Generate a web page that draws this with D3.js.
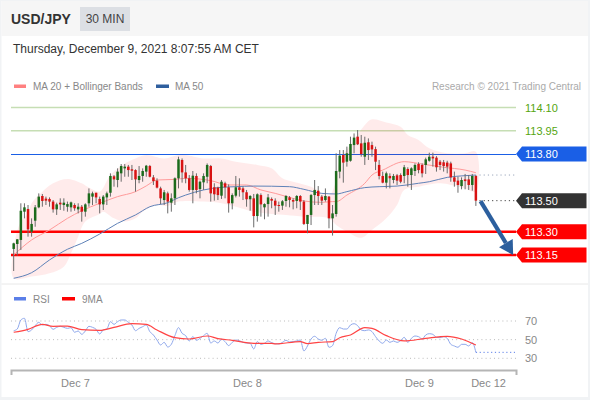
<!DOCTYPE html>
<html>
<head>
<meta charset="utf-8">
<script src="https://cdn.jsdelivr.net/npm/d3@7"></script>
<style>
  html, body { margin: 0; padding: 0; background: #fff; }
  svg { display: block; font-family: "Liberation Sans", Arial, sans-serif; }
</style>
</head>
<body>
<div id="chart"></div>
<script>
// Candles, one per 30 minutes
const opens = [113.189,113.221,113.247,113.429,113.446,113.300,113.371,113.457,113.530,113.513,
  113.511,113.494,113.444,113.487,113.472,113.461,113.457,113.472,113.444,113.461,
  113.429,113.483,113.526,113.551,113.511,113.476,113.521,113.551,113.657,113.633,
  113.676,113.708,113.719,113.702,113.697,113.633,113.659,113.687,113.723,113.650,
  113.629,113.579,113.504,113.547,113.487,113.515,113.644,113.762,113.682,113.644,
  113.569,113.659,113.575,113.618,113.654,113.723,113.586,113.584,113.532,113.612,
  113.586,113.483,113.532,113.586,113.579,113.554,113.509,113.515,113.401,113.536,
  113.457,113.478,113.511,113.500,113.472,113.468,113.498,113.521,113.504,113.498,
  113.530,113.494,113.350,113.408,113.536,113.564,113.526,113.504,113.526,113.386,
  113.414,113.687,113.794,113.751,113.757,113.858,113.912,113.869,113.783,113.876,
  113.858,113.832,113.730,113.659,113.616,113.659,113.633,113.663,113.665,113.659,
  113.704,113.665,113.691,113.736,113.730,113.730,113.757,113.783,113.777,113.751,
  113.747,113.745,113.740,113.650,113.629,113.594,113.637,113.637,113.601,113.659];
const highs = [113.229,113.253,113.483,113.483,113.472,113.386,113.472,113.547,113.543,113.526,
  113.521,113.504,113.487,113.515,113.515,113.494,113.494,113.483,113.483,113.472,
  113.483,113.579,113.558,113.551,113.526,113.536,113.558,113.676,113.665,113.708,
  113.736,113.736,113.730,113.730,113.702,113.723,113.708,113.730,113.730,113.665,
  113.644,113.590,113.569,113.558,113.547,113.650,113.783,113.772,113.730,113.665,
  113.691,113.676,113.629,113.676,113.740,113.730,113.612,113.590,113.633,113.622,
  113.605,113.547,113.659,113.644,113.590,113.569,113.536,113.543,113.547,113.547,
  113.483,113.543,113.521,113.515,113.494,113.504,113.536,113.530,113.515,113.536,
  113.536,113.504,113.408,113.543,113.633,113.594,113.536,113.579,113.530,113.472,
  113.805,113.826,113.826,113.848,113.912,113.933,113.955,113.923,113.912,113.901,
  113.880,113.848,113.762,113.687,113.687,113.676,113.672,113.672,113.676,113.730,
  113.715,113.715,113.740,113.747,113.740,113.777,113.809,113.809,113.787,113.762,
  113.762,113.757,113.751,113.687,113.654,113.650,113.672,113.665,113.672,113.665];
const lows = [113.047,113.146,113.182,113.386,113.268,113.268,113.332,113.451,113.461,113.472,
  113.461,113.423,113.408,113.440,113.435,113.429,113.429,113.435,113.418,113.365,
  113.397,113.461,113.472,113.483,113.418,113.440,113.472,113.526,113.590,113.586,
  113.622,113.654,113.654,113.633,113.558,113.612,113.622,113.654,113.650,113.601,
  113.579,113.478,113.472,113.418,113.429,113.472,113.579,113.616,113.612,113.558,
  113.483,113.547,113.515,113.569,113.612,113.494,113.500,113.504,113.511,113.515,
  113.423,113.444,113.521,113.526,113.504,113.461,113.435,113.328,113.365,113.397,
  113.380,113.397,113.451,113.408,113.429,113.440,113.461,113.457,113.444,113.451,
  113.440,113.343,113.290,113.343,113.472,113.472,113.472,113.494,113.322,113.275,
  113.397,113.644,113.616,113.719,113.751,113.805,113.858,113.783,113.730,113.762,
  113.783,113.697,113.637,113.612,113.579,113.579,113.612,113.601,113.612,113.612,
  113.590,113.569,113.659,113.676,113.650,113.672,113.751,113.719,113.687,113.697,
  113.687,113.676,113.622,113.590,113.551,113.573,113.573,113.569,113.564,113.466];
const closes = [113.225,113.251,113.435,113.457,113.315,113.350,113.457,113.526,113.498,113.500,
  113.494,113.444,113.476,113.476,113.487,113.478,113.489,113.451,113.461,113.429,
  113.476,113.547,113.547,113.521,113.476,113.526,113.547,113.659,113.637,113.687,
  113.723,113.719,113.697,113.693,113.637,113.659,113.691,113.725,113.654,113.626,
  113.584,113.515,113.554,113.494,113.515,113.644,113.766,113.682,113.644,113.569,
  113.661,113.569,113.622,113.659,113.730,113.547,113.541,113.536,113.622,113.586,
  113.483,113.536,113.586,113.569,113.554,113.509,113.530,113.401,113.541,113.476,
  113.478,113.521,113.500,113.468,113.466,113.496,113.530,113.504,113.494,113.530,
  113.494,113.350,113.408,113.536,113.569,113.530,113.500,113.530,113.386,113.418,
  113.691,113.790,113.745,113.805,113.865,113.906,113.863,113.800,113.873,113.826,
  113.830,113.751,113.659,113.616,113.676,113.644,113.659,113.629,113.622,113.715,
  113.665,113.708,113.730,113.697,113.676,113.766,113.783,113.772,113.715,113.730,
  113.723,113.719,113.650,113.622,113.601,113.633,113.626,113.601,113.659,113.500];

// Moving averages and bands, read at the candle indexes listed with them
const ma20Idx = [0,5,10,15,19,24,29,34,37,40,45,48,55,60,65,69,73,77,81,86,89,90,93,98,100,103,109,114,120,126,129];
const ma20 = [113.150,113.247,113.311,113.386,113.435,113.483,113.526,113.558,113.595,113.633,113.637,113.644,113.629,113.601,113.601,113.569,113.547,113.521,113.498,113.489,113.494,113.494,113.536,113.612,113.665,113.697,113.751,113.736,113.715,113.697,113.680];
const ma50Idx = [0,5,10,15,19,24,29,34,38,43,46,48,53,58,62,67,77,81,86,90,93,98,102,107,113,116,121,126,129];
const ma50 = [113.000,113.036,113.118,113.187,113.225,113.285,113.354,113.408,113.461,113.487,113.519,113.536,113.569,113.586,113.590,113.594,113.590,113.573,113.547,113.543,113.558,113.584,113.590,113.594,113.612,113.622,113.650,113.661,113.665];
const bbUpperIdx = [0,2,4,5,8,11,15,19,21,24,27,31,34,37,42,46,48,53,58,62,68,72,75,78,83,88,90,91,94,98,100,104,108,110,113,116,121,126,129];
const bbUpper = [113.193,113.365,113.418,113.483,113.558,113.612,113.640,113.612,113.584,113.558,113.665,113.740,113.772,113.794,113.772,113.794,113.794,113.772,113.772,113.751,113.730,113.708,113.644,113.622,113.590,113.536,113.633,113.762,113.858,113.987,114.024,114.004,113.976,113.923,113.891,113.837,113.805,113.805,113.815];
const bbLowerIdx = [0,5,10,14,16,18,20,24,25,28,31,34,36,40,43,46,53,58,62,67,72,76,81,88,90,93,97,100,104,107,109,113,119,122,126,129];
const bbLower = [113.000,113.011,113.032,113.075,113.161,113.268,113.365,113.414,113.429,113.386,113.365,113.386,113.429,113.472,113.466,113.494,113.494,113.483,113.461,113.429,113.414,113.408,113.397,113.386,113.343,113.300,113.261,113.311,113.386,113.472,113.569,113.590,113.612,113.601,113.579,113.558];

// RSI per candle, and its 9MA at the listed indexes
const rsi = [59.6,61.4,71.1,72.9,58.6,60.4,65,68.6,65.7,66.4,65,61.1,63.2,64.3,63.2,62.1,62.9,57.9,59.3,55.7,
  59.3,64.3,63.2,61.1,56.1,60.4,61.4,69.3,66.4,69.3,71.1,71.1,68.6,65.7,59.6,62.1,63.9,65.7,58.6,55,
  49.6,44.3,47.1,42.1,45,54.3,62.9,56.8,54.3,48.6,53.2,49.3,51.4,54.3,56.8,46.4,48.6,46.4,50.4,47.9,
  43.6,47.1,49.6,48.9,47.1,46.4,46.1,40,47.9,45,46.1,48.6,46.8,45.7,45.4,47.1,49.3,47.5,47.9,48.6,
  49.6,37.9,43.2,50.7,53.6,50.7,49.3,51.4,41.8,43.6,56.8,62.9,61.4,61.4,65.7,67.1,65,60.4,59.6,60.4,
  58.6,53.2,48.6,46.1,49.6,47.1,48.6,47.1,48.9,52.5,47.1,51.4,53.9,53.2,50.7,55,56.4,55.7,52.5,52.1,
  53.2,51.4,45,43.2,41.8,45,45,43.2,46.8,36.4];
const rsiMaIdx = [0,4,8,11,15,19,24,28,33,37,40,45,49,54,57,61,67,72,73,80,82,85,89,91,94,98,100,104,109,115,121,125,129];
const rsiMa = [57.9,61.1,66.4,64.3,64.6,60.7,60,63.2,67.1,66.4,60.4,52.1,50.7,53.9,51.1,49.3,46.1,46.1,45.4,47.9,45.7,47.1,47.9,52.1,55,62.9,62.1,54.3,48.6,51.4,53.6,50.7,44.3];
const rsiTicks = [70, 50, 30];

// Levels and labels
const supportResistance = [114.10, 113.95, 113.80, 113.50, 113.30, 113.15];
const dateTickIdx = [17.1, 65.1, 113.1, 132.4];
const dateTicks = ["Dec 7", "Dec 8", "Dec 9", "Dec 12"];
const lastMa50Level = 113.665;
const lastRsiLevel = 36.4;

const width = 590, height = 400;
const left = 11, right = 516;

const x = d3.scaleLinear().domain([-0.75, 140.2]).range([left, right]);
const y = d3.scaleLinear().domain([113.15, 114.10]).range([255, 107.5]);
const yRsi = d3.scaleLinear().domain([30, 70]).range([358.3, 321]);

const svg = d3.select("#chart").append("svg")
    .attr("width", width)
    .attr("height", height);

// ========== FRAME AND HEADER ========== //
svg.append("rect").attr("width", width).attr("height", height).attr("fill", "#f1f3f5");
svg.append("rect").attr("x", 1.5).attr("y", 1).attr("width", 586.5).attr("height", 396).attr("fill", "#fff");
svg.append("rect").attr("x", 1.5).attr("y", 1).attr("width", 586.5).attr("height", 35).attr("fill", "#f6f6f6");

svg.append("text").attr("x", 11).attr("y", 24)
    .attr("font-size", 14).attr("font-weight", "bold").attr("fill", "#333")
    .text("USD/JPY");
svg.append("rect").attr("x", 80).attr("y", 7).attr("width", 50).attr("height", 24).attr("fill", "#dcdfe4");
svg.append("text").attr("x", 105).attr("y", 23).attr("text-anchor", "middle")
    .attr("font-size", 12).attr("fill", "#444")
    .text("30 MIN");
svg.append("text").attr("x", 13).attr("y", 53)
    .attr("font-size", 12).attr("fill", "#333")
    .text("Thursday, December 9, 2021 8:07:55 AM CET");

// ========== LEGENDS ========== //
function legendItem(sx, sy, color, label, labelX, sw) {
    svg.append("rect").attr("x", sx).attr("y", sy - 1.5).attr("width", sw).attr("height", 3.5).attr("fill", color);
    svg.append("text").attr("x", labelX).attr("y", sy + 4)
        .attr("font-size", 10).attr("fill", "#888")
        .text(label);
}
legendItem(14, 86, "#ff8080", "MA 20 + Bollinger Bands", 33, 12);
legendItem(156, 86, "#2f5f9e", "MA 50", 175, 13);
legendItem(14, 298.5, "#5b7fe8", "RSI", 33, 12);
legendItem(62, 298.5, "#f00", "9MA", 82, 13);

svg.append("text").attr("x", 581).attr("y", 90).attr("text-anchor", "end")
    .attr("font-size", 10).attr("fill", "#aaa")
    .text("Research © 2021 Trading Central");

svg.append("line").attr("x1", 1.5).attr("x2", 588).attr("y1", 284).attr("y2", 284)
    .attr("stroke", "#e8e8e8").attr("stroke-width", 1);

// ========== LEVEL LINES ========== //
const levelStyles = [
    { stroke: "#c6deb4", w: 1.5, text: "#55a510", crisp: "auto" },
    { stroke: "#c6deb4", w: 1.5, text: "#55a510", crisp: "auto" },
    { stroke: "#1a5fe6", w: 1, tag: "#1a5fe6", crisp: "crispEdges" },
    { stroke: "none", w: 1, tag: "#333333", crisp: "auto" },
    { stroke: "#f00", w: 2.4, tag: "#f00", crisp: "auto" },
    { stroke: "#f00", w: 2.4, tag: "#f00", crisp: "auto" }
];

svg.append("g").selectAll("line")
    .data(supportResistance)
    .enter()
    .append("line")
    .attr("x1", left)
    .attr("x2", right)
    .attr("y1", d => y(d))
    .attr("y2", d => y(d))
    .attr("stroke", (d, i) => levelStyles[i].stroke)
    .attr("stroke-width", (d, i) => levelStyles[i].w)
    .attr("shape-rendering", (d, i) => levelStyles[i].crisp);

// ========== BOLLINGER AND MOVING AVERAGES ========== //
const bandPoints = bbUpperIdx.map((d, i) => [x(d), y(bbUpper[i])])
    .concat(bbLowerIdx.map((d, i) => [x(d), y(bbLower[i])]).reverse());

svg.append("path")
    .attr("d", d3.line().curve(d3.curveCatmullRomClosed)(bandPoints))
    .attr("fill", "#ff0000")
    .attr("fill-opacity", 0.08);

const priceLine = d3.line().x(d => x(d[0])).y(d => y(d[1])).curve(d3.curveMonotoneX);

svg.append("path")
    .attr("d", priceLine(ma20Idx.map((d, i) => [d, ma20[i]])))
    .attr("fill", "none")
    .attr("stroke", "#ff9a9a")
    .attr("stroke-width", 1);

svg.append("path")
    .attr("d", priceLine(ma50Idx.map((d, i) => [d, ma50[i]])))
    .attr("fill", "none")
    .attr("stroke", "#5f82b8")
    .attr("stroke-width", 1);

// ========== CANDLES ========== //
const candles = opens.map((d, i) => ({ i: i, o: d, h: highs[i], l: lows[i], c: closes[i] }));

svg.append("g").selectAll("line")
    .data(candles)
    .enter()
    .append("line")
    .attr("x1", d => x(d.i))
    .attr("x2", d => x(d.i))
    .attr("y1", d => y(d.h))
    .attr("y2", d => y(d.l))
    .attr("stroke", "#6b6b6b")
    .attr("stroke-width", 1);

svg.append("g").selectAll("rect")
    .data(candles)
    .enter()
    .append("rect")
    .attr("x", d => x(d.i) - 1.25)
    .attr("width", 2.5)
    .attr("y", d => y(Math.max(d.o, d.c)))
    .attr("height", d => Math.max(1, Math.abs(y(d.o) - y(d.c))))
    .attr("fill", d => d.c >= d.o ? "#1c6b1c" : "#d81212");

// ========== LAST VALUE GUIDES ========== //
svg.append("line")
    .attr("x1", x(130)).attr("x2", right - 1)
    .attr("y1", y(lastMa50Level)).attr("y2", y(lastMa50Level))
    .attr("stroke", "#9aa6bb").attr("stroke-dasharray", "1.2 3");
svg.append("line")
    .attr("x1", x(130)).attr("x2", right - 1)
    .attr("y1", y(closes[129])).attr("y2", y(closes[129]))
    .attr("stroke", "#444").attr("stroke-dasharray", "1.2 3");

// ========== ARROW ========== //
const arrowStart = [x(130.3), y(113.497)];
const arrowEnd = [x(139.4), y(113.15)];
const angle = Math.atan2(arrowEnd[1] - arrowStart[1], arrowEnd[0] - arrowStart[0]);
const headLen = 14, headHalf = 8;
const neck = [arrowEnd[0] - headLen * Math.cos(angle), arrowEnd[1] - headLen * Math.sin(angle)];

svg.append("line")
    .attr("x1", arrowStart[0]).attr("y1", arrowStart[1])
    .attr("x2", neck[0]).attr("y2", neck[1])
    .attr("stroke", "#2c5f9e").attr("stroke-width", 4.2);

svg.append("path")
    .attr("d", d3.line()([
        arrowEnd,
        [neck[0] + headHalf * Math.sin(angle), neck[1] - headHalf * Math.cos(angle)],
        [neck[0] - headHalf * Math.sin(angle), neck[1] + headHalf * Math.cos(angle)]
    ]) + "Z")
    .attr("fill", "#2c5f9e");

// ========== LEVEL TAGS ========== //
supportResistance.forEach((d, i) => {
    const s = levelStyles[i], cy = y(d);
    if (s.tag) {
        svg.append("path")
            .attr("d", d3.line()([[516, cy], [522, cy - 7.5], [586.5, cy - 7.5], [586.5, cy + 7.5], [522, cy + 7.5]]) + "Z")
            .attr("fill", s.tag);
    }
    svg.append("text")
        .attr("x", 525)
        .attr("y", cy + 4)
        .attr("font-size", 11)
        .attr("fill", s.tag ? "#fff" : s.text)
        .text(d3.format(".2f")(d));
});

// ========== RSI ========== //
svg.append("g").selectAll("line")
    .data(rsiTicks)
    .enter()
    .append("line")
    .attr("x1", left)
    .attr("x2", right)
    .attr("y1", d => yRsi(d))
    .attr("y2", d => yRsi(d))
    .attr("stroke", "#bbb")
    .attr("stroke-dasharray", "1 3.2");

svg.append("g").selectAll("text")
    .data(rsiTicks)
    .enter()
    .append("text")
    .attr("x", 525)
    .attr("y", d => yRsi(d) + 4)
    .attr("font-size", 11)
    .attr("fill", "#888")
    .text(d => d);

svg.append("path")
    .attr("d", d3.line().x((d, i) => x(i)).y(d => yRsi(d)).curve(d3.curveMonotoneX)(rsi))
    .attr("fill", "none")
    .attr("stroke", "#8fa8ec")
    .attr("stroke-width", 1);

svg.append("line")
    .attr("x1", x(129)).attr("x2", right - 1)
    .attr("y1", yRsi(lastRsiLevel)).attr("y2", yRsi(lastRsiLevel))
    .attr("stroke", "#5b7fe8").attr("stroke-dasharray", "1.2 2.6");

svg.append("path")
    .attr("d", d3.line().x(d => x(d[0])).y(d => yRsi(d[1])).curve(d3.curveMonotoneX)(rsiMaIdx.map((d, i) => [d, rsiMa[i]])))
    .attr("fill", "none")
    .attr("stroke", "#f44")
    .attr("stroke-width", 1.2);

// ========== DATE AXIS ========== //
const axis = svg.append("g")
    .attr("transform", "translate(0,370)")
    .call(d3.axisBottom(x)
        .tickValues(dateTickIdx)
        .tickFormat((d, i) => dateTicks[i])
        .tickSizeInner(0)
        .tickSizeOuter(5)
        .tickPadding(9));

axis.select(".domain").attr("stroke", "#b5b5b5").attr("stroke-width", 2);
axis.selectAll("text")
    .attr("font-family", "Liberation Sans, Arial, sans-serif")
    .attr("font-size", 11)
    .attr("fill", "#888");
</script>
</body>
</html>
